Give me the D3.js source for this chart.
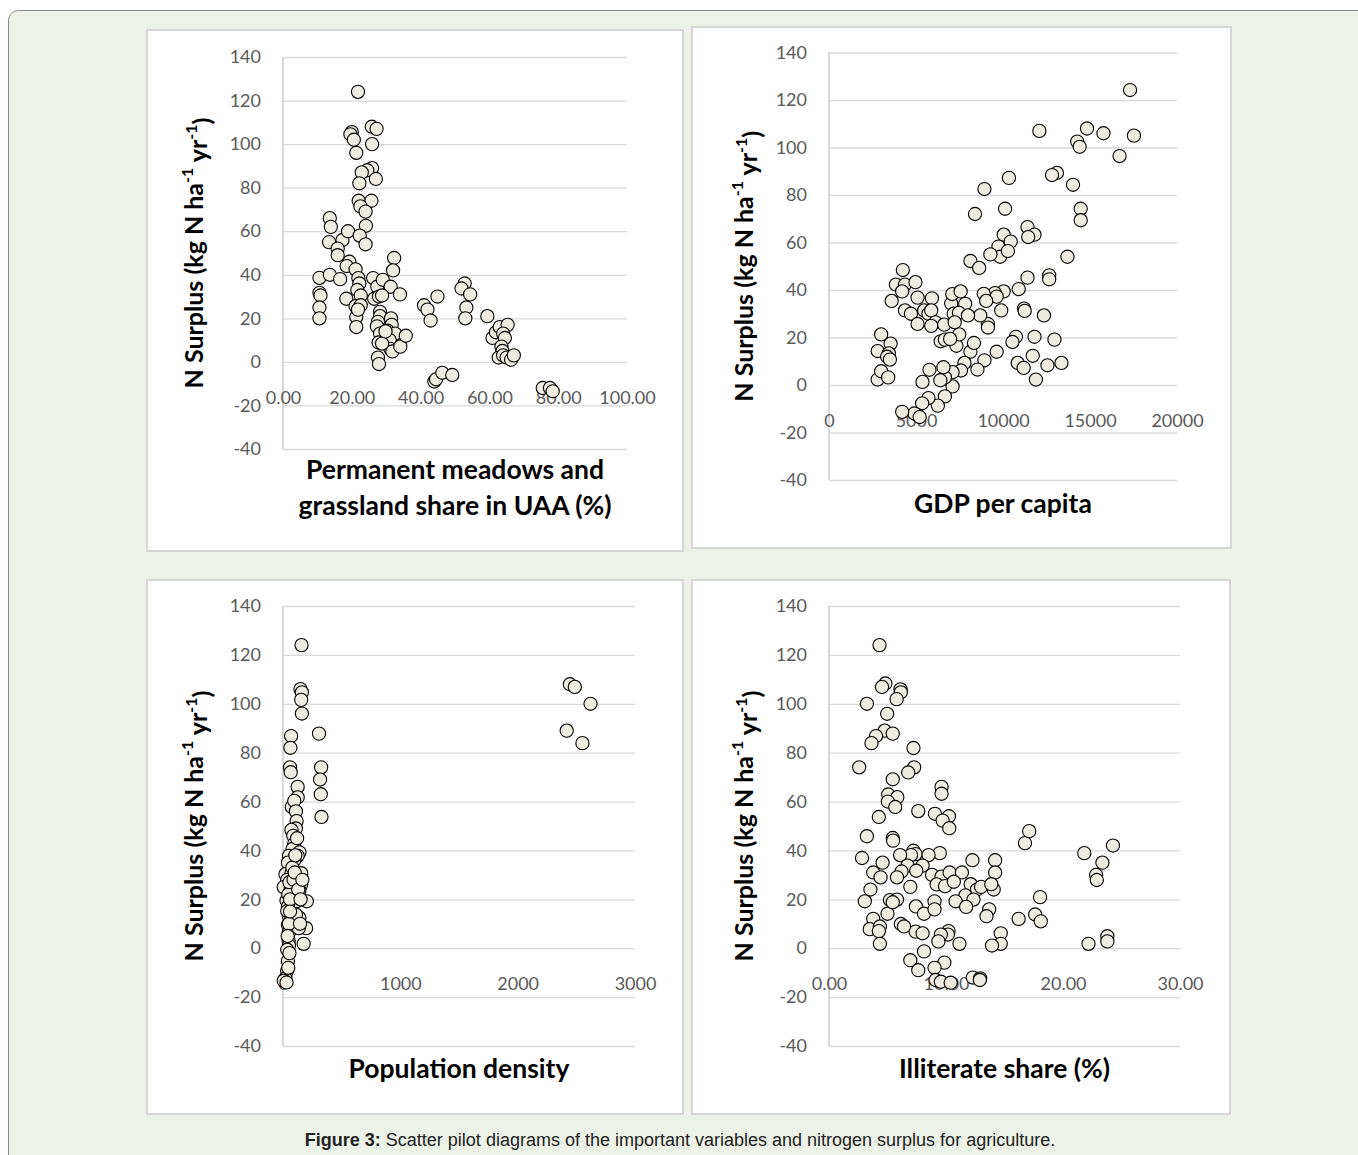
<!DOCTYPE html>
<html>
<head>
<meta charset="utf-8">
<script src="https://cdn.jsdelivr.net/npm/d3@7"></script>
<style>
  html, body { margin: 0; padding: 0; background: #fff; }
  svg { display: block; }
</style>
</head>
<body>
<div id="chart"></div>
<script>
// values
const surplusTicks = [-40, -20, 0, 20, 40, 60, 80, 100, 120, 140];

const meadowTicks = [0, 20, 40, 60, 80, 100];
const meadowShare = [21.8, 20, 19.6, 20.6, 21.3, 25.8, 27.2, 25.9, 25.9, 24.5,
  22.9, 27, 22.2, 22, 25.7, 22.5, 24, 24.1, 13.6, 13.9,
  13.4, 17.3, 18.9, 22.3, 24, 15.9, 15.9, 19.3, 18.5, 21.1,
  10.6, 13.6, 16.6, 21.9, 22.2, 21.6, 22.6, 10.6, 10.9, 10.6,
  10.6, 18.4, 21.1, 22.6, 21.3, 21.3, 21.8, 26.2, 27.4, 29,
  31.3, 32.3, 32, 34, 26.5, 27.9, 28.8, 28.2, 28.2, 27.6,
  27.3, 28.2, 31.4, 31.6, 30.4, 32.6, 31, 31.2, 31.8, 34.1,
  35.7, 27.8, 28.8, 27.6, 27.9, 29.8, 41, 42, 42.9, 44.9,
  44, 44.5, 46.3, 49.2, 52.8, 51.9, 54.4, 53.3, 53, 59.4,
  60.9, 61.9, 63, 65.3, 64, 64.5, 63.5, 63.8, 62.7, 64,
  65, 66.3, 67.1, 75.5, 77.6, 78.4];
const meadowSurplus = [124, 105.5, 104.5, 102, 96, 108, 107, 100, 89, 88,
  87, 84, 82, 74, 74, 71.4, 69, 62.5, 66, 62,
  55, 56, 60, 58, 54, 52, 49, 46, 44, 42.5,
  38.6, 40, 38, 38.5, 36, 33, 30.5, 31.7, 30.5, 25,
  20, 29, 25.6, 26, 20.6, 16, 24, 38.5, 34.5, 37.7,
  34.5, 47.7, 42, 31, 29, 30, 30.5, 23, 21, 18.4,
  16.3, 13, 20, 17, 14.3, 13, 10, 6, 4.8, 7,
  12, 8.9, 8.4, 2, -1, 14, 26, 24, 19, 30,
  -9, -8, -5, -6, 36, 33.7, 31, 25, 20, 21,
  11, 13.6, 16, 17, 13, 11, 7, 5, 2, 3,
  2, 1, 3, -12, -12, -13.5];

const gdpTicks = [0, 5000, 10000, 15000, 20000];
const gdpPerCapita = [17303, 17525, 14829, 15774, 12092, 14265, 14406, 16700, 13098, 12816,
  14024, 10342, 8933, 8390, 10120, 14466, 14466, 11408, 11810, 11448,
  10040, 10443, 9738, 9838, 10281, 9275, 13702, 8128, 8631, 12655,
  12655, 11408, 10905, 10040, 9537, 9637, 8893, 9034, 9898, 11207,
  11247, 12353, 10744, 10543, 11810, 12957, 9134, 9134, 8692, 9637,
  11710, 10844, 11187, 12555, 13360, 11891, 8933, 8531, 8128, 8330,
  7786, 7585, 7323, 7485, 7102, 7102, 6660, 6398, 6660, 6257,
  6579, 5774, 5372, 5714, 5352, 5110, 4909, 4205, 5211, 2797,
  2998, 3400, 2797, 2998, 3541, 3441, 3340, 3501, 3602, 3843,
  4245, 4366, 4205, 4970, 4366, 4708, 5090, 5090, 5473, 5714,
  5915, 5875, 6117, 5875, 6620, 6418, 6660, 6962, 7022, 7082,
  7565, 7826, 7163, 7465, 7987, 7223];
const gdpSurplus = [124.2, 105, 108, 106, 107, 102.5, 100.3, 96.4, 89.3, 88.4,
  84.3, 87.2, 82.5, 72, 74.2, 74.2, 69.4, 66.5, 63.3, 62.3,
  63.3, 60.4, 58.3, 54, 56.4, 55, 54, 52.2, 49.3, 46.2,
  44.5, 45.2, 40.4, 39.4, 38.7, 37.2, 38.4, 35.4, 31.4, 32.2,
  31.2, 29.3, 20.3, 18.1, 20.3, 19.1, 25.7, 24.2, 29.3, 14,
  12.3, 9.3, 7.2, 8.3, 9.3, 2.3, 10.4, 6.5, 14, 17.7,
  9.3, 6.1, 16.5, 21.3, 5.4, -0.6, 3.2, 2, -4.8, -8.7,
  7.5, 6.4, 1.3, -5.5, -7.7, -12.8, -12, -11.3, -13.5, 2.3,
  5.8, 3.2, 14.3, 21.3, 17.4, 13.3, 11.9, 10.7, 35.4, 42.3,
  48.4, 42.3, 39.4, 43.3, 31.4, 30, 36.8, 25.7, 31.4, 30,
  36.5, 31.4, 26.4, 24.9, 25.4, 18.4, 19.1, 19.4, 34.3, 38.3,
  39.4, 34.2, 30, 30.4, 29.3, 26.4];

const densityTicks = [0, 1000, 2000, 3000];
const popDensity = [158, 149, 161, 155, 161, 307, 325, 316, 322, 328,
  2445, 2487, 2621, 2418, 2552, 69, 63, 60, 66, 125,
  125, 75, 96, 110, 116, 110, 72, 87, 96, 81,
  140, 125, 96, 51, 42, 21, 72, 155, 36, 6,
  66, 155, 60, 140, 30, 116, 203, 42, 51, 140,
  36, 72, 42, 197, 176, 51, 48, 51, 36, 42,
  36, 21, 6, 30, 110, 134, 45, 55, 80, 90,
  100, 60, 50, 40, 55, 45, 60, 120, 105, 130,
  150, 165, 145];
const popSurplus = [124, 106, 104.7, 101.6, 96, 87.8, 74, 69, 63, 53.7,
  108, 106.9, 100, 89, 83.9, 86.8, 82, 74, 72, 66,
  61.7, 57.8, 60.3, 56, 52, 49, 48.4, 46, 42.7, 40.6,
  39.2, 37.8, 36, 37.8, 35, 30.3, 30.7, 30.7, 28, 25,
  25, 26, 23, 23.7, 19.5, 19.2, 19.2, 17, 13, 12.4,
  15.2, 12.4, 9.6, 8.2, 1.8, 6.5, 3, 1.1, -0.6, -5.2,
  -9.2, -12.3, -13.3, -14, 13.8, 8.2, 22, 27, 33, 28,
  31, 20, 10, 5, -2, -8, 15, 45, 38, 24,
  20, 28, 10];

const illiterateTicks = [0, 10, 20, 30];
const illiterateShare = [4.32, 4.82, 4.53, 6.11, 6.14, 3.24, 5.78, 4.97, 4.76, 5.45,
  4.02, 3.63, 7.22, 2.58, 7.28, 6.77, 5.45, 9.62, 9.62, 5.06,
  5.84, 5.03, 5.66, 7.63, 9.05, 10.25, 9.71, 10.28, 4.26, 3.24,
  5.45, 5.48, 7.22, 7.4, 7.01, 9.47, 8.51, 2.82, 4.58, 6.08,
  6.71, 8.0, 7.46, 6.2, 3.78, 4.41, 5.81, 8.81, 9.62, 10.31,
  11.36, 12.26, 14.2, 14.2, 6.95, 9.2, 9.92, 10.67, 12.11, 12.65,
  13.0, 14.08, 13.87, 11.66, 12.35, 10.82, 11.72, 13.69, 13.46, 18.04,
  17.62, 18.1, 16.21, 16.75, 17.11, 21.82, 23.37, 24.27, 22.83, 22.89,
  22.18, 23.79, 23.79, 14.68, 14.68, 13.93, 11.15, 10.22, 10.16, 9.56,
  9.35, 8.12, 9.86, 9.02, 9.11, 9.56, 10.4, 12.29, 12.92, 12.89,
  6.95, 7.63, 7.4, 8.0, 7.43, 8.12, 9.02, 9.02, 6.14, 6.41,
  3.06, 3.54, 3.78, 3.48, 4.35, 4.26, 4.35, 5.0, 5.21, 5.81, 5.45];
const illiterateSurplus = [124, 108.3, 106.9, 105.9, 104.7, 100, 101.9, 95.9, 89, 87.8,
  86.8, 83.9, 81.9, 74, 74, 71.9, 69.1, 66, 63.2, 62.9,
  61.8, 60, 57.8, 56.1, 55, 54, 52.2, 49.1, 53.7, 45.8,
  45.1, 44, 39.9, 38.5, 38.1, 38.9, 38.1, 36.9, 35, 38.1,
  33.8, 33.8, 31.7, 31.4, 31, 29, 29, 30, 29.3, 31,
  31, 36, 36, 31, 25.1, 26.1, 25.4, 27.2, 26.2, 24,
  25.1, 24, 26.2, 21.6, 19.9, 19.2, 16.9, 15.9, 13.1, 20.9,
  13.8, 11, 12, 43, 47.9, 38.9, 35, 42, 30, 27.9,
  1.8, 4.9, 2.8, 6.1, 1.8, 1.1, 1.8, 7, 5.6, 5.6,
  2.8, -1.3, -5.9, -8, -13, -13.7, -14.1, -12, -12.3, -13,
  -4.9, -9, 6.8, 6.1, 17.1, 14.1, 19.2, 15.9, 9.9, 8.9,
  19.2, 24, 12, 7.8, 8.9, 7, 1.8, 14.1, 19.7, 19.9, 18.8];

const W = 1358, H = 1155;
const tickFont = 'Lato, "Open Sans", sans-serif';
// Excel writes a plain hyphen for negatives
const plain = (d) => String(d);
const twoDec = (d) => d.toFixed(2);

const svg = d3.select('#chart').append('svg')
  .attr('width', W)
  .attr('height', H);

// page background + rounded frame
svg.append('rect').attr('width', W).attr('height', H).attr('fill', '#fff');
svg.append('rect')
  .attr('x', 8.5).attr('y', 10.5)
  .attr('width', 1420).attr('height', 1220)
  .attr('rx', 10)
  .attr('fill', '#edf2e8')
  .attr('stroke', '#8a8a8a');

const panels = [
  { box: [147, 30, 536, 521], px: [283, 627], py: [57, 449], xs: meadowShare, ys: meadowSurplus,
    ticks: meadowTicks, fmt: twoDec, titleX: 193, label: ['Permanent meadows and', 'grassland share in UAA (%)'], labelY: 479 },
  { box: [692, 27, 539, 521], px: [829, 1177], py: [52.5, 480], xs: gdpPerCapita, ys: gdpSurplus,
    ticks: gdpTicks, fmt: plain, titleX: 743, label: ['GDP per capita'], labelY: 513 },
  { box: [147, 580, 536, 534], px: [283, 635], py: [606, 1046], xs: popDensity, ys: popSurplus,
    ticks: densityTicks, fmt: plain, titleX: 193, label: ['Population density'], labelY: 1078 },
  { box: [692, 580, 538, 534], px: [829, 1180], py: [606, 1046], xs: illiterateShare, ys: illiterateSurplus,
    ticks: illiterateTicks, fmt: twoDec, titleX: 743, label: ['Illiterate share (%)'], labelY: 1078 }
];

panels.forEach((p) => {
  svg.append('rect')
    .attr('x', p.box[0]).attr('y', p.box[1])
    .attr('width', p.box[2]).attr('height', p.box[3])
    .attr('fill', '#fff')
    .attr('stroke', '#d6d6d6')
    .attr('stroke-width', 2);

  const x = d3.scaleLinear().domain(d3.extent(p.ticks)).range(p.px);
  const y = d3.scaleLinear().domain([-40, 140]).range([p.py[1], p.py[0]]);
  const w = p.px[1] - p.px[0];

  const g = svg.append('g');

  // horizontal gridlines + y tick labels
  const yAxis = g.append('g')
    .attr('transform', 'translate(' + p.px[0] + ',0)')
    .call(d3.axisLeft(y).tickValues(surplusTicks).tickSize(-w).tickPadding(22).tickFormat(plain));
  yAxis.select('.domain').remove();
  yAxis.selectAll('line').attr('stroke', '#d9d9d9').attr('stroke-width', 1.3);
  yAxis.selectAll('text').attr('fill', '#595959').attr('font-family', tickFont).attr('font-size', 18);

  // vertical axis line
  g.append('line')
    .attr('x1', p.px[0]).attr('x2', p.px[0])
    .attr('y1', y(140)).attr('y2', y(-40))
    .attr('stroke', '#cfcfcf').attr('stroke-width', 1.6);

  // x tick labels sit under the zero line
  const xAxis = g.append('g')
    .attr('transform', 'translate(0,' + y(0) + ')')
    .call(d3.axisBottom(x).tickValues(p.ticks).tickSize(0).tickPadding(29).tickFormat(p.fmt));
  xAxis.select('.domain').remove();
  xAxis.selectAll('text').attr('fill', '#595959').attr('font-family', tickFont).attr('font-size', 18);

  // y title
  const yt = g.append('text')
    .attr('transform', 'translate(' + p.titleX + ',' + (p.py[0] + p.py[1]) / 2 + ') rotate(-90)')
    .attr('text-anchor', 'middle')
    .attr('dominant-baseline', 'central')
    .attr('font-family', tickFont)
    .attr('font-weight', 'bold')
    .attr('font-size', 25)
    .attr('fill', '#000');
  yt.append('tspan').text('N Surplus (kg N ha');
  yt.append('tspan').attr('dy', '-0.45em').attr('font-size', 16).text('-1');
  yt.append('tspan').attr('dy', '0.45em').text(' yr');
  yt.append('tspan').attr('dy', '-0.45em').attr('font-size', 16).text('-1');
  yt.append('tspan').attr('dy', '0.45em').text(')');

  // x title
  p.label.forEach((line, i) => {
    g.append('text')
      .attr('x', (p.px[0] + p.px[1]) / 2)
      .attr('y', p.labelY + i * 36)
      .attr('text-anchor', 'middle')
      .attr('font-family', tickFont)
      .attr('font-weight', 'bold')
      .attr('font-size', 26.5)
      .attr('fill', '#000')
      .text(line);
  });

  // points
  g.append('g')
    .selectAll('circle')
    .data(p.xs.map((v, i) => [v, p.ys[i]]))
    .enter()
    .append('circle')
    .attr('cx', (d) => x(d[0]))
    .attr('cy', (d) => y(d[1]))
    .attr('r', 6.6)
    .attr('fill', '#eeece1')
    .attr('stroke', '#000')
    .attr('stroke-width', 1.1);
});

// caption
const cap = svg.append('text')
  .attr('x', 680).attr('y', 1146)
  .attr('text-anchor', 'middle')
  .attr('font-family', '"Liberation Sans", Arial, sans-serif')
  .attr('font-size', 18)
  .attr('fill', '#222');
cap.append('tspan').attr('font-weight', 'bold').text('Figure 3:');
cap.append('tspan').text(' Scatter pilot diagrams of the important variables and nitrogen surplus for agriculture.');
</script>
</body>
</html>
